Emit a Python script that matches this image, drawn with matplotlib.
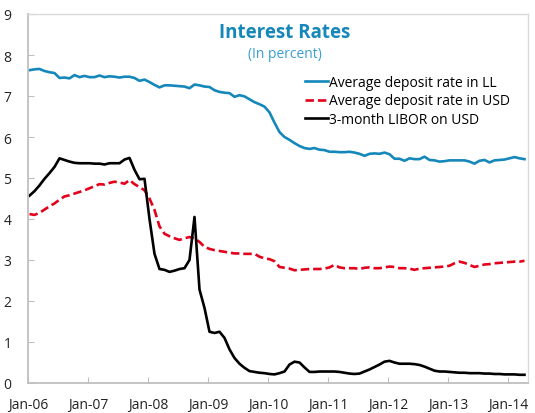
import matplotlib
matplotlib.use("Agg")
import matplotlib.pyplot as plt
import numpy as np

# Monthly data, Jan 2006 - Apr 2014
rate_ll = [7.63, 7.65, 7.66, 7.61, 7.58, 7.56, 7.44, 7.45, 7.43, 7.51, 7.46, 7.49,
           7.46, 7.46, 7.50, 7.46, 7.48, 7.47, 7.45, 7.47, 7.47, 7.44, 7.37, 7.40,
           7.34, 7.27, 7.21, 7.26, 7.26, 7.25, 7.24, 7.23, 7.19, 7.28, 7.26, 7.23,
           7.22, 7.14, 7.10, 7.08, 7.07, 6.98, 7.02, 6.99, 6.92, 6.85, 6.80, 6.74,
           6.60, 6.35, 6.12, 6.00, 5.93, 5.85, 5.78, 5.73, 5.71, 5.73, 5.69, 5.68,
           5.64, 5.64, 5.63, 5.63, 5.64, 5.62, 5.59, 5.54, 5.59, 5.60, 5.59, 5.62,
           5.58, 5.47, 5.47, 5.42, 5.48, 5.46, 5.46, 5.52, 5.44, 5.43, 5.40, 5.41,
           5.43, 5.43, 5.43, 5.43, 5.40, 5.35, 5.42, 5.44, 5.38, 5.43, 5.44, 5.45,
           5.48, 5.51, 5.48, 5.46]

rate_usd = [4.12, 4.10, 4.15, 4.23, 4.31, 4.38, 4.47, 4.55, 4.58, 4.62, 4.66, 4.70,
            4.75, 4.80, 4.85, 4.84, 4.88, 4.91, 4.89, 4.86, 4.95, 4.85, 4.78, 4.70,
            4.50, 4.22, 3.82, 3.64, 3.58, 3.53, 3.49, 3.53, 3.56, 3.53, 3.44, 3.32,
            3.27, 3.24, 3.22, 3.20, 3.18, 3.16, 3.16, 3.15, 3.15, 3.15, 3.08, 3.04,
            3.02, 2.97, 2.83, 2.81, 2.79, 2.75, 2.76, 2.77, 2.78, 2.78, 2.78, 2.79,
            2.82, 2.88, 2.82, 2.80, 2.80, 2.80, 2.78, 2.81, 2.82, 2.80, 2.80, 2.82,
            2.84, 2.83, 2.80, 2.80, 2.79, 2.76, 2.79, 2.80, 2.81, 2.82, 2.83, 2.84,
            2.86, 2.92, 2.96, 2.93, 2.88, 2.83, 2.86, 2.89, 2.90, 2.92, 2.93, 2.94,
            2.95, 2.96, 2.96, 2.98]

libor = [4.57, 4.68, 4.82, 4.98, 5.12, 5.27, 5.48, 5.44, 5.40, 5.37, 5.36, 5.36,
         5.36, 5.35, 5.35, 5.33, 5.36, 5.36, 5.36, 5.45, 5.49, 5.20, 4.97, 4.98,
         4.00, 3.15, 2.78, 2.76, 2.71, 2.74, 2.78, 2.80, 3.00, 4.05, 2.28, 1.83,
         1.25, 1.22, 1.25, 1.10, 0.82, 0.61, 0.47, 0.37, 0.29, 0.27, 0.25, 0.24,
         0.22, 0.21, 0.24, 0.28, 0.45, 0.52, 0.50, 0.38, 0.27, 0.27, 0.28, 0.28,
         0.28, 0.28, 0.27, 0.25, 0.23, 0.22, 0.23, 0.28, 0.33, 0.39, 0.45, 0.52,
         0.54, 0.50, 0.47, 0.47, 0.47, 0.46, 0.44, 0.40, 0.35, 0.30, 0.28, 0.28,
         0.27, 0.26, 0.25, 0.25, 0.24, 0.24, 0.24, 0.23, 0.23, 0.22, 0.22, 0.21,
         0.21, 0.21, 0.20, 0.20]

tick_labels = ["Jan-06", "Jan-07", "Jan-08", "Jan-09", "Jan-10",
               "Jan-11", "Jan-12", "Jan-13", "Jan-14"]
series_labels = ["Average deposit rate in LL", "Average deposit rate in USD",
                 "3-month LIBOR on USD"]

plt.rcParams['font.family'] = ['Open Sans', 'DejaVu Sans']

fig = plt.figure(figsize=(5.35, 4.14), dpi=100)
ax = fig.add_axes([28/535, 30/414, 500/535, 369/414])

x = np.arange(len(rate_ll))
ax.plot(x, rate_ll, color="#1587BA", lw=1.9, label=series_labels[0])
ax.plot(x, rate_usd, color="#E3001B", lw=1.9, ls=(0, (3.2, 1.5)), label=series_labels[1])
ax.plot(x, libor, color="black", lw=1.9, label=series_labels[2])

ax.set_xlim(-0.3, 99.7)
ax.set_ylim(0, 9)
ax.set_xticks([12 * k - 0.3 for k in range(len(tick_labels))])
ax.set_xticklabels(tick_labels)
ax.set_yticks(range(10))
ax.tick_params(axis='both', direction='in', labelsize=10, colors='#BFBFBF',
               labelcolor='#222222', length=4)
ax.tick_params(axis='x', pad=10)
ax.tick_params(axis='y', pad=12)

for s in ['left', 'bottom']:
    ax.spines[s].set_color('#BFBFBF')
    ax.spines[s].set_linewidth(1.3)
for s in ['top', 'right']:
    ax.spines[s].set_color('#D9D9D9')
    ax.spines[s].set_linewidth(1.0)

fig.text(285/535, 1 - 33/414, "Interest Rates", ha='center', va='center',
         fontsize=13.5, fontweight='bold', color='#1587BA')
fig.text(285/535, 1 - 54/414, "(In percent)", ha='center', va='center',
         fontsize=10, color='#3A9FD0')

leg = ax.legend(loc='upper left', bbox_to_anchor=(0.543, 0.85), frameon=False,
                fontsize=10, handlelength=1.65, handletextpad=0.1,
                labelspacing=0.25, borderaxespad=0)

fig.savefig("out.png", dpi=100)
